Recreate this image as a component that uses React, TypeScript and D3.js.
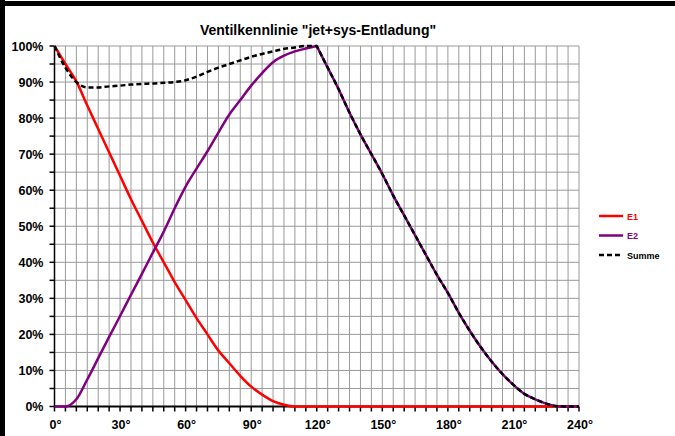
import * as d3 from "d3";
import React from "react";

// Winkel in Grad, Schrittweite 5°
const angles = d3.range(0, 245, 5);

// Ventilhub E1 (%)
const e1 = [
  100, 95, 90.2, 83.5, 77, 70.5, 64, 57.5, 51.5, 45.5, 40, 34.5, 29.5, 24.5, 20, 15.5,
  12, 8.5, 5.5, 3.3, 1.5, 0.5, 0, 0, 0, 0, 0, 0, 0, 0, 0, 0, 0, 0, 0, 0, 0, 0, 0, 0,
  0, 0, 0, 0, 0, 0, 0, 0, 0,
];

// Ventilhub E2 (%)
const e2 = [
  0, 0, 2, 7.5, 13.4, 19.3, 25.1, 31, 36.8, 42.7, 48.5, 55, 61, 66, 70.8, 76, 81, 85, 89,
  92.5, 95.5, 97.3, 98.5, 99.3, 100, 94, 88, 81.5, 75.5, 70, 64.5, 58.5, 53, 47.5, 42,
  36.5, 31.5, 26, 21, 16.5, 12.5, 9, 6, 3.5, 2, 0.8, 0.1, 0, 0,
];

// Summe (%)
const summe = [
  100, 94, 90, 88.5, 88.5, 88.8, 89, 89.3, 89.5, 89.6, 89.8, 90, 90.5, 91.5, 92.8, 94,
  95, 96, 97, 97.8, 98.5, 99.2, 99.6, 100, 100, 94, 88, 81.5, 75.5, 70, 64.5, 58.5, 53,
  47.5, 42, 36.5, 31.5, 26, 21, 16.5, 12.5, 9, 6, 3.5, 2, 0.8, 0.1, 0, 0,
];

const xLabels = [0, 30, 60, 90, 120, 150, 180, 210, 240];
const yLabels = [0, 10, 20, 30, 40, 50, 60, 70, 80, 90, 100];

const series = [
  { name: "E1", values: e1, color: "#ff0000", dash: "" },
  { name: "E2", values: e2, color: "#800080", dash: "" },
  { name: "Summe", values: summe, color: "#000000", dash: "5,3" },
];

const W = 675, H = 436;
const margin = { left: 54.5, right: 96, top: 46, bottom: 29.5 };
const peak = 24; // Index von 120°

export default function App() {
  const x = d3.scaleLinear().domain([0, 240]).range([margin.left, W - margin.right]);
  const y = d3.scaleLinear().domain([0, 100]).range([H - margin.bottom, margin.top]);

  // Kurve in zwei Stücken, damit die Spitze bei 120° scharf bleibt
  const line = (vals: number[]) => {
    const pts: [number, number][] = vals.map((v, i) => [x(angles[i]), y(v)]);
    const gen = d3.line().curve(d3.curveMonotoneX);
    const a = gen(pts.slice(0, peak + 1)) || "";
    const b = gen(pts.slice(peak)) || "";
    return a + b.replace(/^M[^A-Z]*/, (m) => "L" + m.slice(1));
  };

  const font = "'Liberation Sans', Arial, sans-serif";
  const vGrid = d3.range(5, 245, 5);
  const hGrid = d3.range(5, 105, 5);

  return (
    <svg width={W} height={H} style={{ position: "absolute", left: 0, top: 0, background: "#fff" }}>
      <rect x={0} y={0} width={W} height={H} fill="#fff" />
      {/* Rahmen */}
      <rect x={0} y={1} width={W} height={5} fill="#000" />
      <rect x={0} y={0} width={5} height={H} fill="#000" />

      <text x={318} y={35} textAnchor="middle" fontFamily={font} fontWeight="bold" fontSize={14}>
        Ventilkennlinie "jet+sys-Entladung"
      </text>

      {/* Gitter */}
      <g stroke="#9a9a9a" strokeWidth={1}>
        {vGrid.map((d) => (
          <line key={"v" + d} x1={x(d)} x2={x(d)} y1={y(0)} y2={y(100)} />
        ))}
        {hGrid.map((d) => (
          <line key={"h" + d} x1={x(0)} x2={x(240)} y1={y(d)} y2={y(d)} />
        ))}
      </g>

      {/* Achsen */}
      <g stroke="#000" strokeWidth={1.5}>
        <line x1={x(0)} x2={x(0)} y1={y(0)} y2={y(100)} />
        <line x1={x(0)} x2={x(240)} y1={y(0)} y2={y(0)} strokeWidth={2} />
        {d3.range(0, 245, 5).map((d) => (
          <line key={"tx" + d} x1={x(d)} x2={x(d)} y1={y(0)} y2={y(0) + 5} />
        ))}
        {d3.range(0, 105, 5).map((d) => (
          <line key={"ty" + d} x1={x(0) - 5} x2={x(0)} y1={y(d)} y2={y(d)} />
        ))}
      </g>

      <g fontFamily={font} fontWeight="bold" fontSize={12.5} fill="#000">
        {yLabels.map((d) => (
          <text key={"yl" + d} x={x(0) - 11} y={y(d) + 4.5} textAnchor="end">
            {d + "%"}
          </text>
        ))}
        {xLabels.map((d) => (
          <text key={"xl" + d} x={x(d) + 1} y={y(0) + 22} textAnchor="middle">
            {d + "°"}
          </text>
        ))}
      </g>

      {/* Kurven */}
      {series.map((s) => (
        <path
          key={s.name}
          d={line(s.values)}
          fill="none"
          stroke={s.color}
          strokeWidth={2.5}
          strokeDasharray={s.dash}
          strokeLinejoin="round"
        />
      ))}

      {/* Legende */}
      {series.map((s, i) => {
        const ly = 216 + i * 19.5;
        return (
          <g key={"lg" + s.name}>
            <line x1={599} x2={623} y1={ly} y2={ly} stroke={s.color} strokeWidth={2.5} strokeDasharray={s.dash} />
            <text x={627} y={ly + 3.5} fontFamily={font} fontWeight="bold" fontSize={9} fill={s.color}>
              {s.name}
            </text>
          </g>
        );
      })}
    </svg>
  );
}
